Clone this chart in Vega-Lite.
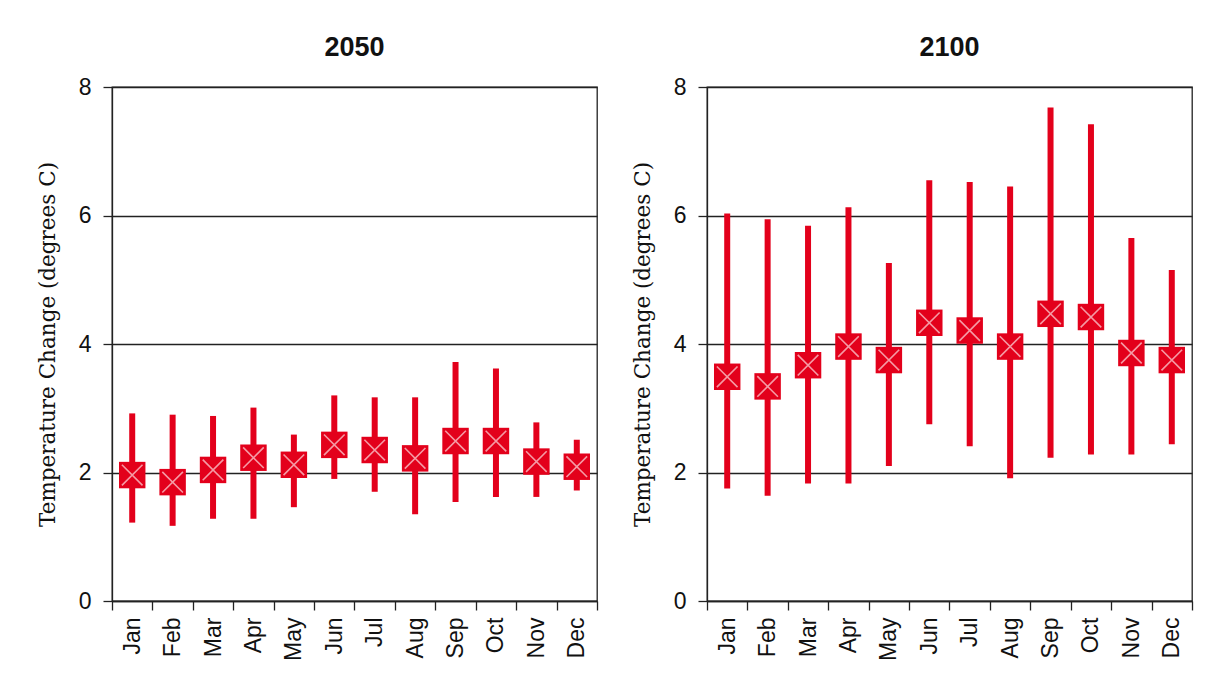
{
  "$schema": "https://vega.github.io/schema/vega-lite/v6.json",
  "background": "white",
  "padding": {"left": 36, "top": 33, "right": 20, "bottom": 5},
  "autosize": {"type": "pad"},
  "bounds": "flush",
  "spacing": 110,
  "data": {
    "values": [
      {"period": "2050", "month": "Jan", "lo": 1.22, "hi": 2.92, "mean": 1.96},
      {"period": "2050", "month": "Feb", "lo": 1.17, "hi": 2.90, "mean": 1.85},
      {"period": "2050", "month": "Mar", "lo": 1.28, "hi": 2.88, "mean": 2.04},
      {"period": "2050", "month": "Apr", "lo": 1.28, "hi": 3.01, "mean": 2.23},
      {"period": "2050", "month": "May", "lo": 1.46, "hi": 2.59, "mean": 2.12},
      {"period": "2050", "month": "Jun", "lo": 1.90, "hi": 3.20, "mean": 2.43},
      {"period": "2050", "month": "Jul", "lo": 1.70, "hi": 3.17, "mean": 2.35},
      {"period": "2050", "month": "Aug", "lo": 1.35, "hi": 3.17, "mean": 2.22},
      {"period": "2050", "month": "Sep", "lo": 1.54, "hi": 3.72, "mean": 2.49},
      {"period": "2050", "month": "Oct", "lo": 1.62, "hi": 3.62, "mean": 2.49},
      {"period": "2050", "month": "Nov", "lo": 1.62, "hi": 2.78, "mean": 2.17},
      {"period": "2050", "month": "Dec", "lo": 1.72, "hi": 2.51, "mean": 2.09},
      {"period": "2100", "month": "Jan", "lo": 1.75, "hi": 6.03, "mean": 3.49},
      {"period": "2100", "month": "Feb", "lo": 1.64, "hi": 5.94, "mean": 3.34},
      {"period": "2100", "month": "Mar", "lo": 1.83, "hi": 5.84, "mean": 3.67},
      {"period": "2100", "month": "Apr", "lo": 1.83, "hi": 6.13, "mean": 3.96},
      {"period": "2100", "month": "May", "lo": 2.10, "hi": 5.26, "mean": 3.75},
      {"period": "2100", "month": "Jun", "lo": 2.75, "hi": 6.55, "mean": 4.33},
      {"period": "2100", "month": "Jul", "lo": 2.41, "hi": 6.52, "mean": 4.21},
      {"period": "2100", "month": "Aug", "lo": 1.91, "hi": 6.45, "mean": 3.96},
      {"period": "2100", "month": "Sep", "lo": 2.23, "hi": 7.68, "mean": 4.47},
      {"period": "2100", "month": "Oct", "lo": 2.28, "hi": 7.42, "mean": 4.42},
      {"period": "2100", "month": "Nov", "lo": 2.28, "hi": 5.65, "mean": 3.86},
      {"period": "2100", "month": "Dec", "lo": 2.44, "hi": 5.15, "mean": 3.75}
    ]
  },
  "hconcat": [
    {
      "title": "2050",
      "width": 485,
      "height": 514,
      "transform": [{"filter": "datum.period == '2050'"}],
      "encoding": {
        "x": {"field": "month", "type": "nominal", "scale": {"type": "band", "paddingInner": 0, "paddingOuter": 0, "domain": ["Jan","Feb","Mar","Apr","May","Jun","Jul","Aug","Sep","Oct","Nov","Dec"]}, "title": null}
      },
      "layer": [
        {"mark": {"type": "rule", "color": "#e3001b", "strokeWidth": 6},
         "encoding": {"y": {"field": "lo", "type": "quantitative", "scale": {"domain": [0, 8], "nice": false}, "axis": {"values": [0, 2, 4, 6, 8], "format": "d"}, "title": "Temperature Change (degrees C)"}, "y2": {"field": "hi"}}},
        {"mark": {"type": "point", "shape": "square", "filled": true, "color": "#e3001b", "opacity": 1, "size": 700},
         "encoding": {"y": {"field": "mean", "type": "quantitative"}}},
        {"mark": {"type": "point", "shape": "M-0.78,-0.78L0.78,0.78M-0.78,0.78L0.78,-0.78", "filled": false, "color": "#f59aa5", "opacity": 1, "strokeWidth": 1.6, "size": 700},
         "encoding": {"y": {"field": "mean", "type": "quantitative"}}}
      ]
    },
    {
      "title": "2100",
      "width": 485,
      "height": 514,
      "transform": [{"filter": "datum.period == '2100'"}],
      "encoding": {
        "x": {"field": "month", "type": "nominal", "scale": {"type": "band", "paddingInner": 0, "paddingOuter": 0, "domain": ["Jan","Feb","Mar","Apr","May","Jun","Jul","Aug","Sep","Oct","Nov","Dec"]}, "title": null}
      },
      "layer": [
        {"mark": {"type": "rule", "color": "#e3001b", "strokeWidth": 6},
         "encoding": {"y": {"field": "lo", "type": "quantitative", "scale": {"domain": [0, 8], "nice": false}, "axis": {"values": [0, 2, 4, 6, 8], "format": "d"}, "title": "Temperature Change (degrees C)"}, "y2": {"field": "hi"}}},
        {"mark": {"type": "point", "shape": "square", "filled": true, "color": "#e3001b", "opacity": 1, "size": 700},
         "encoding": {"y": {"field": "mean", "type": "quantitative"}}},
        {"mark": {"type": "point", "shape": "M-0.78,-0.78L0.78,0.78M-0.78,0.78L0.78,-0.78", "filled": false, "color": "#f59aa5", "opacity": 1, "strokeWidth": 1.6, "size": 700},
         "encoding": {"y": {"field": "mean", "type": "quantitative"}}}
      ]
    }
  ],
  "config": {
    "view": {"stroke": "#222", "strokeWidth": 1.3},
    "title": {"font": "Liberation Sans", "fontSize": 27, "fontWeight": "bold", "color": "#111", "offset": 14},
    "axisX": {"tickBand": "extent", "labelAngle": -90, "labelFont": "Liberation Sans", "labelFontSize": 23, "labelColor": "#111", "tickSize": 9, "tickColor": "#222", "tickWidth": 1.3, "domainColor": "#222", "domainWidth": 1.3, "labelPadding": 7, "grid": false},
    "axisY": {"grid": true, "gridColor": "#222", "gridWidth": 1.3, "gridOpacity": 1, "tickSize": 9, "tickColor": "#222", "tickWidth": 1.3, "domainColor": "#222", "domainWidth": 1.3, "labelPadding": 12, "labelFont": "Liberation Sans", "labelFontSize": 23, "labelColor": "#111", "titleFont": "DejaVu Serif", "titleFontSize": 21.5, "titleFontWeight": "normal", "titleColor": "#111", "titlePadding": 19}
  }
}
